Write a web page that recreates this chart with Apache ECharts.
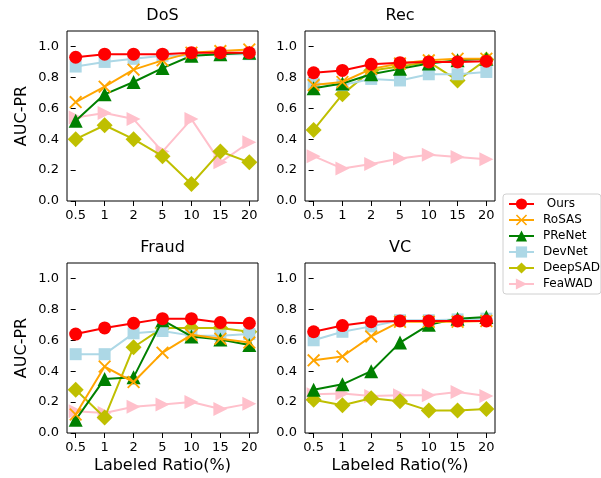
<!DOCTYPE html>
<html>
<head>
<meta charset="utf-8">
<script src="https://cdn.jsdelivr.net/npm/echarts@6/dist/echarts.min.js"></script>
<style>html,body{margin:0;padding:0;background:#fff}#chart{width:601px;height:478px}</style>
</head>
<body>
<div id="chart"></div>
<script>
var ratios = ['0.5', '1', '2', '5', '10', '15', '20'];
var yTicks = [0, 0.2, 0.4, 0.6, 0.8, 1.0];
var panels = ['DoS', 'Rec', 'Fraud', 'VC'];
var methods = ['Ours', 'RoSAS', 'PReNet', 'DevNet', 'DeepSAD', 'FeaWAD'];

// AUC-PR values
var dosOurs    = [0.93, 0.95, 0.95, 0.95, 0.96, 0.96, 0.96];
var dosRoSAS   = [0.64, 0.74, 0.85, 0.91, 0.96, 0.97, 0.98];
var dosPReNet  = [0.52, 0.69, 0.77, 0.86, 0.94, 0.95, 0.96];
var dosDevNet  = [0.87, 0.90, 0.92, 0.94, 0.94, 0.95, 0.95];
var dosDeepSAD = [0.40, 0.49, 0.40, 0.29, 0.11, 0.32, 0.25];
var dosFeaWAD  = [0.54, 0.57, 0.53, 0.32, 0.53, 0.25, 0.38];

var recOurs    = [0.83, 0.845, 0.885, 0.895, 0.90, 0.90, 0.905];
var recRoSAS   = [0.75, 0.77, 0.855, 0.89, 0.91, 0.92, 0.92];
var recPReNet  = [0.73, 0.76, 0.82, 0.855, 0.89, 0.91, 0.92];
var recDevNet  = [0.76, 0.75, 0.79, 0.78, 0.82, 0.82, 0.835];
var recDeepSAD = [0.46, 0.69, 0.845, 0.87, 0.90, 0.78, 0.915];
var recFeaWAD  = [0.29, 0.21, 0.24, 0.275, 0.30, 0.285, 0.27];

var fraudOurs    = [0.64, 0.68, 0.71, 0.74, 0.74, 0.715, 0.71];
var fraudRoSAS   = [0.12, 0.43, 0.33, 0.52, 0.635, 0.61, 0.585];
var fraudPReNet  = [0.085, 0.35, 0.36, 0.73, 0.625, 0.605, 0.57];
var fraudDevNet  = [0.51, 0.51, 0.645, 0.66, 0.63, 0.63, 0.64];
var fraudDeepSAD = [0.28, 0.10, 0.555, 0.68, 0.68, 0.68, 0.655];
var fraudFeaWAD  = [0.14, 0.13, 0.17, 0.185, 0.20, 0.155, 0.19];

var vcOurs    = [0.655, 0.695, 0.72, 0.725, 0.725, 0.725, 0.725];
var vcRoSAS   = [0.47, 0.495, 0.625, 0.72, 0.72, 0.72, 0.725];
var vcPReNet  = [0.28, 0.315, 0.40, 0.585, 0.70, 0.74, 0.75];
var vcDevNet  = [0.60, 0.655, 0.69, 0.73, 0.73, 0.735, 0.74];
var vcDeepSAD = [0.215, 0.18, 0.225, 0.205, 0.145, 0.145, 0.155];
var vcFeaWAD  = [0.25, 0.255, 0.24, 0.245, 0.245, 0.265, 0.24];

var panelData = [
    [dosOurs, dosRoSAS, dosPReNet, dosDevNet, dosDeepSAD, dosFeaWAD],
    [recOurs, recRoSAS, recPReNet, recDevNet, recDeepSAD, recFeaWAD],
    [fraudOurs, fraudRoSAS, fraudPReNet, fraudDevNet, fraudDeepSAD, fraudFeaWAD],
    [vcOurs, vcRoSAS, vcPReNet, vcDevNet, vcDeepSAD, vcFeaWAD]
];

var font = 'DejaVu Sans';
var colors = ['#ff0000', '#ffa500', '#008000', '#add8e6', '#bfbf00', '#ffc0cb'];
var xMark = 'path://M1,0L5,4L9,0L10,1L6,5L10,9L9,10L5,6L1,10L0,9L4,5L0,1Z';
var rightTri = 'path://M0,0L10,5L0,10Z';
var symbols = ['circle', xMark, 'triangle', 'rect', 'diamond', rightTri];
var sizes = [13, 13, 14, 12, 16, 14];

var grids = [
    {left: 67, top: 31, width: 191, height: 170},
    {left: 305, top: 31, width: 190, height: 170},
    {left: 67, top: 263, width: 191, height: 170},
    {left: 305, top: 263, width: 190, height: 170}
];

var xAxes = [], yAxes = [], series = [], titles = [];
for (var p = 0; p < 4; p++) {
    grids[p].show = true;
    grids[p].borderColor = '#000';
    grids[p].borderWidth = 1;
    xAxes.push({
        type: 'value', gridIndex: p, min: -0.3, max: 6.3,
        name: p >= 2 ? 'Labeled Ratio(%)' : '',
        nameLocation: 'middle', nameGap: 25,
        nameTextStyle: {fontSize: 16, fontFamily: font, color: '#000'},
        axisLine: {show: false},
        splitLine: {show: false},
        axisTick: {show: true, length: 5, lineStyle: {color: '#000'}, customValues: [0, 1, 2, 3, 4, 5, 6]},
        axisLabel: {
            fontSize: 13, fontFamily: font, color: '#000', margin: 8,
            customValues: [0, 1, 2, 3, 4, 5, 6],
            formatter: function (v) { return ratios[Math.round(v)]; }
        }
    });
    yAxes.push({
        type: 'value', gridIndex: p, min: 0, max: 1.1,
        name: p % 2 === 0 ? 'AUC-PR' : '',
        nameLocation: 'middle', nameGap: 37,
        nameTextStyle: {fontSize: 16, fontFamily: font, color: '#000'},
        axisLine: {show: false},
        splitLine: {show: false},
        axisTick: {show: true, length: 5, lineStyle: {color: '#000'}, customValues: yTicks},
        axisLabel: {
            fontSize: 13, fontFamily: font, color: '#000', margin: 8,
            customValues: yTicks,
            formatter: function (v) { return v.toFixed(1); }
        }
    });
    for (var m = 0; m < methods.length; m++) {
        series.push({
            name: methods[m], type: 'line', xAxisIndex: p, yAxisIndex: p,
            data: panelData[p][m].map(function (v, i) { return [i, v]; }),
            symbol: symbols[m], symbolSize: sizes[m],
            z: 10 - m,
            lineStyle: {color: colors[m], width: 2},
            itemStyle: {color: colors[m]},
            animation: false
        });
    }
    titles.push({
        type: 'text',
        x: grids[p].left + grids[p].width / 2,
        y: grids[p].top - 15,
        style: {text: panels[p], fontSize: 16, fontFamily: font, fill: '#000', align: 'center', verticalAlign: 'middle'}
    });
}

var chart = echarts.init(document.getElementById('chart'));
chart.setOption({
    animation: false,
    grid: grids,
    xAxis: xAxes,
    yAxis: yAxes,
    series: series,
    graphic: titles,
    legend: {
        data: methods, orient: 'vertical', left: 503, top: 194,
        itemWidth: 25, itemHeight: 14, itemGap: 4,
        padding: [4, 1, 4, 5],
        borderColor: '#d0d0d0', borderWidth: 1, borderRadius: 3,
        textStyle: {fontSize: 12, fontFamily: font, color: '#000', padding: [0, 0, 0, 4]},
        formatter: function (n) { return n === 'Ours' ? ' Ours' : n; }
    }
});
</script>
</body>
</html>
